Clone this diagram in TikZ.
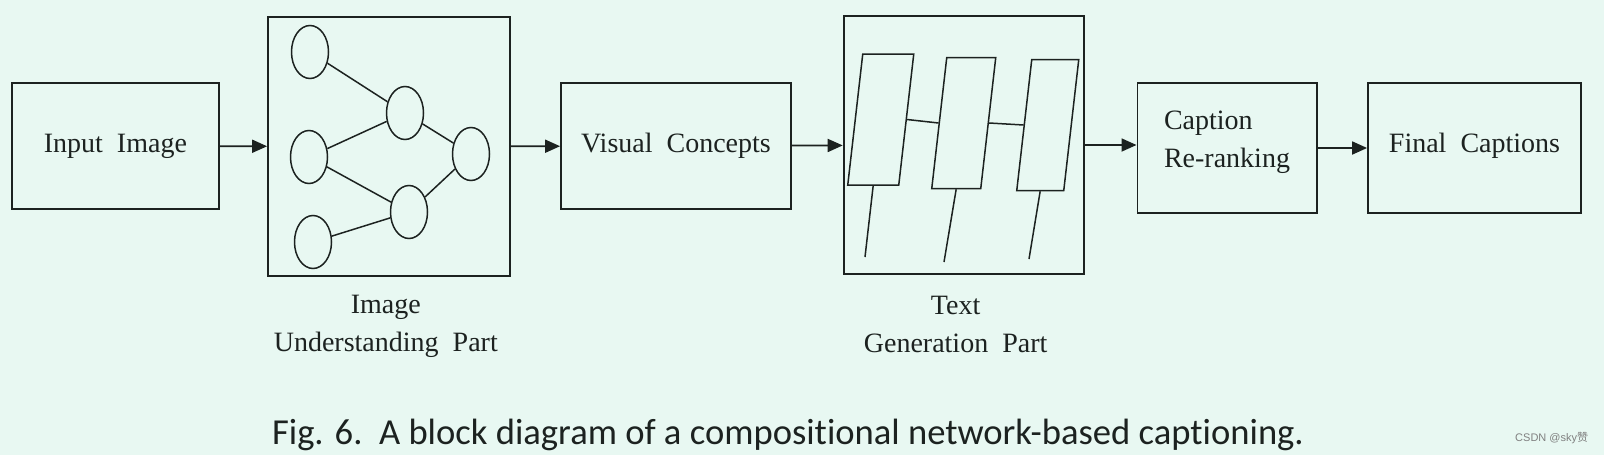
\documentclass[tikz,border=0pt]{standalone}
\usepackage{fontspec}
\setmainfont{Liberation Serif}
\newfontfamily\capfont[Ligatures={NoCommon}]{Carlito}
\newfontfamily\wmfont{Liberation Sans}
\newfontfamily\cjkfont{Noto Sans CJK SC}
\usepackage{tikz}
\usetikzlibrary{arrows.meta, positioning, shapes.geometric}
\definecolor{bgmint}{RGB}{232,248,242}
\definecolor{inkgray}{RGB}{28,34,32}

\begin{document}
\begin{tikzpicture}[x=0.5pt, y=-0.5pt, color=inkgray, line width=0.9pt,
            font=\fontsize{14}{19}\selectfont,
            block/.style={draw, inner sep=0pt},
            cell/.style={draw, ellipse, line width=0.75pt, minimum width=18.5pt, minimum height=26.5pt, inner sep=0pt},
            gate/.style={draw, line width=0.75pt, minimum height=65.5pt, xslant=0.1145, inner sep=0pt},
            link/.style={line width=0.75pt},
            lbl/.style={align=center, inner sep=0pt},
            arr/.style={-{Triangle[length=7.5pt,width=6.5pt]}}]
            \fill[bgmint] (0,0) rectangle (1604,455);
            \useasboundingbox (0,0) rectangle (1604,455);
            \node[block, minimum width=103.3pt, minimum height=63pt] (inp) at (115.4,146) {Input~~Image};
            \node[block, minimum width=120.8pt, minimum height=129.5pt] (iu) at (388.8,146.5) {};
            \node[block, minimum width=115pt, minimum height=63pt] (vc) at (676,146) {Visual~~Concepts};
            \node[block, minimum width=120pt, minimum height=129pt] (tg) at (963.6,145) {};
            \node[block, minimum width=89.6pt, minimum height=65pt] (cr) at (1227,148) {\raisebox{3.5pt}[\height][\depth]{\begin{tabular}{@{}l@{}}Caption\\Re-ranking\end{tabular}}};
            \node[block, minimum width=106.5pt, minimum height=65pt] (fc) at (1474.5,148) {\raisebox{1pt}[\height][\depth]{Final~~Captions}};
            \node[lbl, below=8.5pt of iu, xshift=-1.5pt] (iulbl) {Image\\Understanding~~Part};
            \node[lbl, below=10pt of tg, xshift=-4pt] (tglbl) {Text\\Generation~~Part};
            \node[cell] (c1) at (310,52) {};
            \node[cell] (c2) at (309,157) {};
            \node[cell] (c3) at (313,242) {};
            \node[cell] (m1) at (405,113) {};
            \node[cell] (m2) at (409,212) {};
            \node[cell] (o) at (471,154) {};
            \draw[link] (c1) -- (m1) (c2) -- (m1) (c2) -- (m2) (c3) -- (m2) (m1) -- (o) (m2) -- (o);
            \node[gate, minimum width=25.5pt] (p1) at (880.75,119.5) {};
            \node[gate, minimum width=24.5pt] (p2) at (963.75,123) {};
            \node[gate, minimum width=23.5pt] (p3) at (1047.75,125) {};
            \coordinate (s1) at (865,257);
            \coordinate (s2) at (944,262);
            \coordinate (s3) at (1029,259);
            \draw[link] (p1.east) -- (p2.west) (p2.east) -- (p3.west);
            \draw[link] (p1.south) -- (s1) (p2.south) -- (s2) (p3.south) -- (s3);
            \draw[arr] (inp) -- (iu);
            \draw[arr] (iu) -- (vc);
            \draw[arr] (vc) -- (tg);
            \draw[arr] (tg.east) -- (tg.east -| cr.west);
            \draw[arr] (cr) -- (fc);
            \node[font=\capfont\fontsize{18.3}{18.3}\selectfont, anchor=base] (cap) at (788,444) {Fig. 6.\ \ A block diagram of a compositional network-based captioning.};
            \node[font=\wmfont\fontsize{5.5}{5.5}\selectfont, text=gray, anchor=base east, inner sep=0pt] (wm) at (1589,441) {CSDN @sky{\cjkfont 赞}};
        \end{tikzpicture}
\end{document}
